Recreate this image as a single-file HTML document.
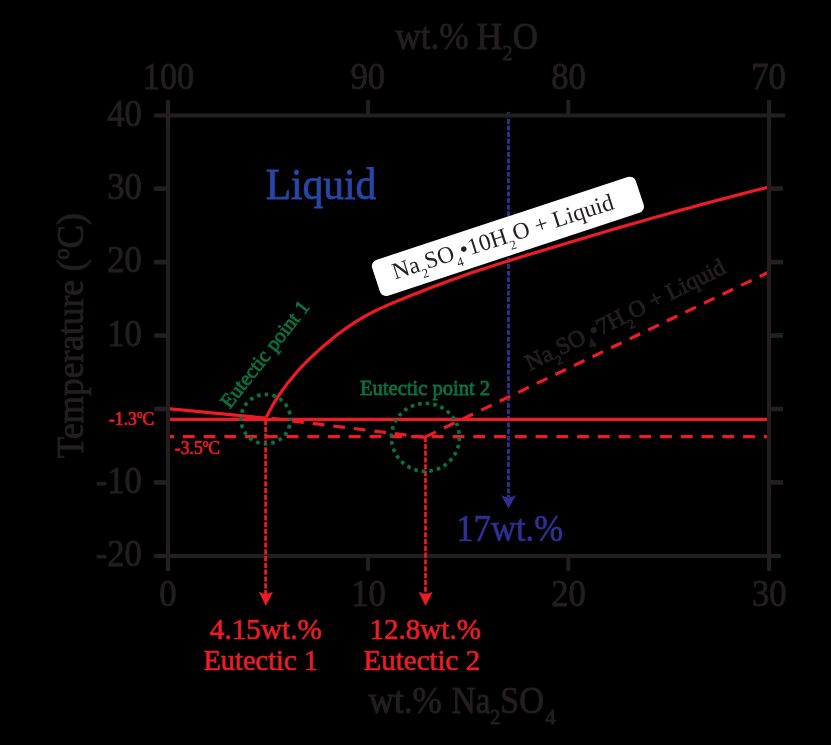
<!DOCTYPE html>
<html>
<head>
<meta charset="utf-8">
<title>Na2SO4-H2O phase diagram</title>
<style>
  html, body { margin: 0; padding: 0; background: #000; }
  body { width: 831px; height: 745px; overflow: hidden; }
  svg { display: block; will-change: transform; }
  text { font-family: "Liberation Serif", serif; }
  .ax { stroke: #231f20; stroke-width: 4; fill: none; stroke-linecap: butt; }
  .tk { stroke: #231f20; stroke-width: 4; fill: none; stroke-linecap: butt; }
  .lbl { fill: #231f20; font-size: 37px; stroke: #231f20; stroke-width: 0.9; }
  .red { stroke: #ed1c24; fill: none; stroke-width: 3.2; }
  .redt { fill: #ed1c24; stroke: #ed1c24; stroke-width: 0.7; }
  .grn { fill: #0b7040; stroke: #0b7040; stroke-width: 0.8; font-size: 20.5px; }
</style>
</head>
<body>
<svg width="831" height="745" viewBox="0 0 831 745">
  <rect x="0" y="0" width="831" height="745" fill="#000"/>

  <!-- blue dotted line (under label box) -->
  <line x1="508.5" y1="112.3" x2="508.5" y2="497" stroke="#2e3192" stroke-width="2.8" stroke-dasharray="5.0 1.6"/>

  <!-- white label box -->
  <rect x="-138.85" y="-18.85" width="277.7" height="37.7" rx="6.5" ry="6.5" fill="#fff" transform="translate(507.9 236.35) rotate(-18.25)"/>

  <!-- red curves -->
  <line class="red" x1="168" y1="419.4" x2="768" y2="419.4" stroke-width="3.3"/>
  <line class="red" x1="168" y1="436.6" x2="768" y2="436.6" stroke-dasharray="11.8 8.95" stroke-dashoffset="5.9" stroke-width="3.2"/>
  <path class="red" d="M168 408.7 L266 418.2" stroke-width="3.4"/>
  <path class="red" d="M265.5 417.6 L425.5 437.4" stroke-dasharray="11.7 9" stroke-dashoffset="14.5" stroke-width="2.7"/>
  <path class="red" d="M425.4 436.9 L768 272.5" stroke-dasharray="11.7 8.9"/>
  <path class="red" stroke-linejoin="round" d="M266.3 417.3 L269.3 411.4 L272.3 405.9 L275.3 400.9 L278.3 396.2 L281.3 391.8 L284.3 387.6 L287.3 383.6 L290.3 379.9 L293.3 376.2 L296.3 372.7 L299.3 369.3 L302.3 366.1 L305.3 363.0 L308.3 360.0 L311.3 357.2 L314.3 354.3 L317.3 351.6 L320.3 348.9 L323.3 346.2 L326.3 343.7 L329.3 341.2 L332.3 338.7 L335.3 336.3 L338.3 334.0 L341.3 331.7 L344.3 329.5 L347.3 327.4 L350.3 325.3 L353.3 323.3 L356.3 321.4 L359.3 319.6 L362.3 317.8 L365.3 316.1 L368.3 314.4 L371.3 312.9 L374.3 311.3 L377.3 309.9 L380.3 308.4 L383.3 307.1 L386.3 305.7 L389.3 304.4 L392.3 303.1 L395.3 301.9 L398.3 300.6 L401.3 299.4 L404.3 298.2 L407.3 297.0 L410.3 295.8 L413.3 294.6 L416.3 293.4 L419.3 292.2 L420.0 292.0 L430.0 288.0 L440.0 284.2 L450.0 280.5 L460.0 276.9 L470.0 273.3 L480.0 270.0 L490.0 266.8 L500.0 263.6 L510.0 260.4 L520.0 257.3 L530.0 254.2 L540.0 251.2 L550.0 248.2 L560.0 245.2 L570.0 242.2 L580.0 239.2 L590.0 236.2 L600.0 233.3 L610.0 230.3 L620.0 227.4 L630.0 224.5 L640.0 221.7 L650.0 218.8 L660.0 216.0 L670.0 213.2 L680.0 210.4 L690.0 207.7 L700.0 204.9 L710.0 202.2 L720.0 199.6 L730.0 197.0 L740.0 194.4 L750.0 191.8 L760.0 189.3 L767.5 187.4"/>

  <!-- axes frame -->
  <line class="ax" x1="154.1" y1="115.45" x2="785.1" y2="115.45" stroke-width="4.8"/>
  <line class="ax" x1="154.1" y1="556" x2="781" y2="556"/>
  <line class="ax" x1="168" y1="100.1" x2="168" y2="570.9"/>
  <line class="ax" x1="769" y1="100.1" x2="769" y2="570.9"/>
  <g class="tk">
    <line x1="154.1" y1="188.6" x2="168" y2="188.6" stroke-width="4.7"/>
    <line x1="154.1" y1="262.1" x2="168" y2="262.1" stroke-width="4.7"/>
    <line x1="154.1" y1="335.5" x2="168" y2="335.5" stroke-width="4.7"/>
    <line x1="154.1" y1="409" x2="168" y2="409" stroke-width="4.7"/>
    <line x1="154.1" y1="482.4" x2="168" y2="482.4" stroke-width="4.7"/>
    <line x1="768" y1="188.6" x2="783" y2="188.6" stroke-width="4.7"/>
    <line x1="768" y1="262.1" x2="783" y2="262.1" stroke-width="4.7"/>
    <line x1="768" y1="335.5" x2="783" y2="335.5" stroke-width="4.7"/>
    <line x1="768" y1="409" x2="783" y2="409" stroke-width="4.7"/>
    <line x1="768" y1="482.4" x2="783" y2="482.4" stroke-width="4.7"/>
    <line x1="368.1" y1="100.1" x2="368.1" y2="115"/>
    <line x1="568.3" y1="100.1" x2="568.3" y2="115"/>
    <line x1="368.1" y1="556" x2="368.1" y2="570.9"/>
    <line x1="568.3" y1="556" x2="568.3" y2="570.9"/>
  </g>

  <!-- vertical dotted arrows -->
  <line x1="265.6" y1="420" x2="265.6" y2="594.5" stroke="#ed1c24" stroke-width="2.7" stroke-dasharray="5.2 1.6"/>
  <path d="M265.8 606 L258.9 591.8 Q262.5 593.8 265.8 594 Q269.2 593.8 273 591.8 Z" fill="#ed1c24"/>
  <line x1="425.5" y1="437" x2="425.5" y2="594.5" stroke="#ed1c24" stroke-width="2.7" stroke-dasharray="5.2 1.6"/>
  <path d="M425.5 606 L418.6 591.8 Q422.2 593.8 425.5 594 Q428.9 593.8 432.7 591.8 Z" fill="#ed1c24"/>
  <path d="M508.5 508.5 L501 495 Q504.8 497.2 508.5 497.4 Q512.2 497.2 516.1 495 Z" fill="#2e3192"/>

  <!-- green circles -->
  <circle cx="265.7" cy="419.1" r="24.7" fill="none" stroke="#0b7040" stroke-width="3.7" stroke-dasharray="3.6 4.160" stroke-dashoffset="1.8"/>
  <circle cx="425.4" cy="437.3" r="34" fill="none" stroke="#0b7040" stroke-width="3.7" stroke-dasharray="3.6 4.030" stroke-dashoffset="0"/>

  <!-- green labels -->
  <text class="grn" x="360" y="395.1" textLength="130" lengthAdjust="spacingAndGlyphs">Eutectic point 2</text>
  <text class="grn" transform="translate(229.7 409.6) rotate(-51.8)" x="0" y="0" textLength="130.5" lengthAdjust="spacingAndGlyphs">Eutectic point 1</text>

  <!-- axis tick labels -->
  <g class="lbl">
    <text x="168.5" y="88.8" text-anchor="middle" textLength="51.4" lengthAdjust="spacingAndGlyphs">100</text>
    <text x="367.8" y="88.8" text-anchor="middle" textLength="34.6" lengthAdjust="spacingAndGlyphs">90</text>
    <text x="568.5" y="88.8" text-anchor="middle" textLength="34.6" lengthAdjust="spacingAndGlyphs">80</text>
    <text x="768.5" y="88.8" text-anchor="middle" textLength="34.6" lengthAdjust="spacingAndGlyphs">70</text>
    <text x="168.0" y="606.1" text-anchor="middle" textLength="17.3" lengthAdjust="spacingAndGlyphs">0</text>
    <text x="368.5" y="606.1" text-anchor="middle" textLength="34.6" lengthAdjust="spacingAndGlyphs">10</text>
    <text x="568.5" y="606.1" text-anchor="middle" textLength="34.6" lengthAdjust="spacingAndGlyphs">20</text>
    <text x="769.2" y="606.1" text-anchor="middle" textLength="34.6" lengthAdjust="spacingAndGlyphs">30</text>
    <text x="141.9" y="125.6" text-anchor="end" textLength="34.6" lengthAdjust="spacingAndGlyphs">40</text>
    <text x="141.9" y="198.9" text-anchor="end" textLength="34.6" lengthAdjust="spacingAndGlyphs">30</text>
    <text x="141.9" y="272.4" text-anchor="end" textLength="34.6" lengthAdjust="spacingAndGlyphs">20</text>
    <text x="141.9" y="345.8" text-anchor="end" textLength="34.6" lengthAdjust="spacingAndGlyphs">10</text>
    <text x="141.9" y="492.7" text-anchor="end" textLength="46.2" lengthAdjust="spacingAndGlyphs">-10</text>
    <text x="141.9" y="566.0" text-anchor="end" textLength="46.2" lengthAdjust="spacingAndGlyphs">-20</text>
  </g>

  <!-- axis titles -->
  <g class="lbl">
    <text x="395.2" y="48.9" textLength="73.6" lengthAdjust="spacingAndGlyphs">wt.%</text>
    <text x="476.6" y="48.9" textLength="25.8" lengthAdjust="spacingAndGlyphs">H</text>
    <text x="502.6" y="60.3" font-size="21" textLength="10" lengthAdjust="spacingAndGlyphs">2</text>
    <text x="512.8" y="48.9" textLength="25.2" lengthAdjust="spacingAndGlyphs">O</text>
  </g>
  <g class="lbl">
    <text x="368.4" y="713.4" textLength="73.6" lengthAdjust="spacingAndGlyphs">wt.%</text>
    <text x="451.8" y="713.4" textLength="38.6" lengthAdjust="spacingAndGlyphs">Na</text>
    <text x="490.3" y="723.7" font-size="21" textLength="10" lengthAdjust="spacingAndGlyphs">2</text>
    <text x="500" y="713.4" textLength="44" lengthAdjust="spacingAndGlyphs">SO</text>
    <text x="545.3" y="723.7" font-size="21" textLength="10.4" lengthAdjust="spacingAndGlyphs">4</text>
  </g>
  <text class="lbl" transform="translate(82.6 458.2) rotate(-90)" x="0" y="0" textLength="245" lengthAdjust="spacingAndGlyphs">Temperature (ºC)</text>

  <!-- Liquid -->
  <text x="265.7" y="198.7" font-size="44" fill="#2846a8" stroke="#2846a8" stroke-width="0.8" textLength="110.5" lengthAdjust="spacingAndGlyphs">Liquid</text>
  <text x="456.2" y="540.6" font-size="38" fill="#2e3192" stroke="#2e3192" stroke-width="0.7" textLength="107" lengthAdjust="spacingAndGlyphs">17wt.%</text>

  <!-- red text -->
  <text class="redt" x="209.8" y="639" font-size="30" textLength="112" lengthAdjust="spacingAndGlyphs">4.15wt.%</text>
  <text class="redt" x="203.4" y="670.4" font-size="30" textLength="114.6" lengthAdjust="spacingAndGlyphs">Eutectic 1</text>
  <text class="redt" x="369.4" y="639" font-size="30" textLength="111.6" lengthAdjust="spacingAndGlyphs">12.8wt.%</text>
  <text class="redt" x="363.6" y="670.4" font-size="30" textLength="116.6" lengthAdjust="spacingAndGlyphs">Eutectic 2</text>
  <text class="redt" x="108.9" y="424.6" font-size="19.5" textLength="45.3" lengthAdjust="spacingAndGlyphs">-1.3ºC</text>
  <text class="redt" x="174.8" y="453.7" font-size="19.5" textLength="45.3" lengthAdjust="spacingAndGlyphs">-3.5ºC</text>

  <!-- rotated compound labels -->
  <text transform="translate(394.9 279.4) rotate(-17.8)" x="0" y="0" font-size="23.5" fill="#231f20" textLength="231.5" lengthAdjust="spacingAndGlyphs">Na<tspan font-size="13" dy="7.6">2</tspan><tspan dy="-7.6">SO</tspan><tspan font-size="13" dy="7.6">4</tspan><tspan dy="-7.6">•10H</tspan><tspan font-size="13" dy="7.6">2</tspan><tspan dy="-7.6">O + Liquid</tspan></text>
  <text transform="translate(530 370.9) rotate(-26.6)" x="0" y="0" font-size="23.5" fill="#231f20" stroke="#231f20" stroke-width="0.9" textLength="220.5" lengthAdjust="spacingAndGlyphs">Na<tspan font-size="13" dy="7.6">2</tspan><tspan dy="-7.6">SO</tspan><tspan font-size="13" dy="7.6">4</tspan><tspan dy="-7.6">•7H</tspan><tspan font-size="13" dy="7.6">2</tspan><tspan dy="-7.6">O + Liquid</tspan></text>
</svg>
</body>
</html>
